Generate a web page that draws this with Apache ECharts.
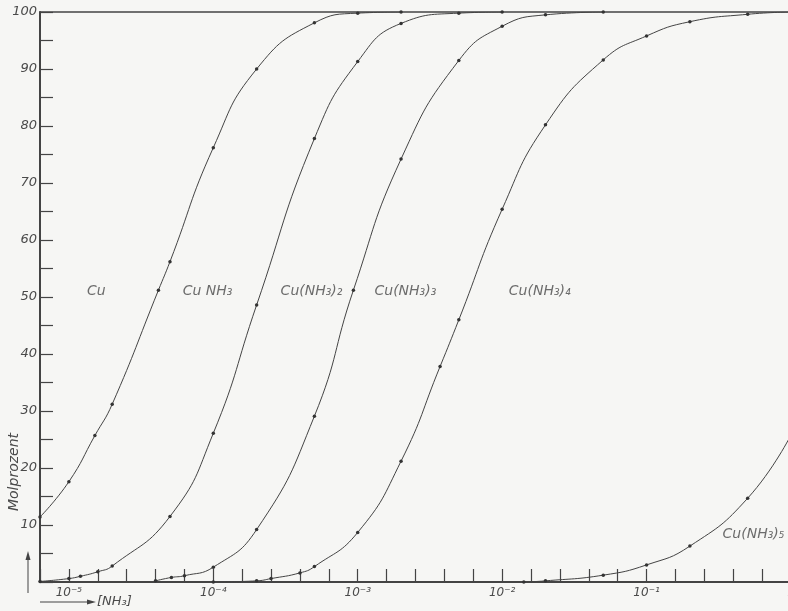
<!DOCTYPE html>
<html>
<head>
<meta charset="utf-8">
<script src="https://cdn.jsdelivr.net/npm/echarts@6.0.0/dist/echarts.min.js"></script>
<style>
  html, body { margin: 0; padding: 0; background: #f6f6f4; }
  #main { width: 788px; height: 611px; }
</style>
</head>
<body>
<div id="main"></div>
<script>
  // x = log10([NH3]), y = Molprozent (cumulative boundaries between species)
  const curveCu = [[-5.2, 11.4], [-5.0, 17.6], [-4.82, 25.7], [-4.7, 31.2], [-4.38, 51.2], [-4.3, 56.2], [-4.0, 76.2], [-3.7, 90.0], [-3.3, 98.1], [-3.0, 99.8], [-2.7, 100]]
  const curveCuNH3 = [[-5.2, 0.1], [-5.0, 0.6], [-4.92, 1.0], [-4.8, 1.8], [-4.7, 2.8], [-4.3, 11.5], [-4.0, 26.1], [-3.7, 48.6], [-3.3, 77.8], [-3.0, 91.3], [-2.7, 98.0], [-2.3, 99.8], [-2.0, 100]]
  const curveCuNH3_2 = [[-4.4, 0.2], [-4.29, 0.8], [-4.2, 1.1], [-4.0, 2.6], [-3.7, 9.2], [-3.3, 29.1], [-3.03, 51.2], [-2.7, 74.2], [-2.3, 91.5], [-2.0, 97.5], [-1.7, 99.5], [-1.3, 100]]
  const curveCuNH3_3 = [[-4.0, 0.0], [-3.7, 0.2], [-3.6, 0.6], [-3.4, 1.6], [-3.3, 2.7], [-3.0, 8.7], [-2.7, 21.2], [-2.43, 37.8], [-2.3, 46.0], [-2.0, 65.4], [-1.7, 80.2], [-1.3, 91.6], [-1.0, 95.8], [-0.7, 98.3], [-0.3, 99.6], [0, 100]]
  const curveCuNH3_4 = [[-1.85, 0.0], [-1.7, 0.2], [-1.3, 1.2], [-1.0, 3.0], [-0.7, 6.3], [-0.3, 14.7], [0, 25.8]]

  // species labels and where they sit (data coordinates)
  const labelNames = ['Cu', 'Cu NH₃', 'Cu(NH₃)₂', 'Cu(NH₃)₃', 'Cu(NH₃)₄', 'Cu(NH₃)₅']
  const labelX = [-4.81, -4.04, -3.32, -2.67, -1.74, -0.26]
  const labelY = [51, 51, 51, 51, 51, 8.3]

  const sup = { '-': '⁻', '1': '¹', '2': '²', '3': '³', '4': '⁴', '5': '⁵' }
  const textColor = '#4a4a4a'
  const lineColor = '#444'
  const font = 'DejaVu Sans'

  const chart = echarts.init(document.getElementById('main'))

  function curve (data) {
    return {
      type: 'line',
      data: data,
      smooth: 0.5,
      symbol: 'circle',
      symbolSize: 3.5,
      itemStyle: { color: '#333' },
      lineStyle: { color: lineColor, width: 1 },
      silent: true,
      z: 3
    }
  }

  const option = {
    backgroundColor: '#f6f6f4',
    animation: false,
    grid: { left: 40, right: -3, top: 12, bottom: 29, containLabel: false, outerBoundsMode: 'none' },
    xAxis: [
      {
        type: 'value',
        min: -5.2,
        max: 0,
        interval: 0.2,
        axisLine: { show: true, onZero: false, lineStyle: { color: lineColor, width: 2 } },
        axisTick: { show: true, inside: true, length: 13, lineStyle: { color: lineColor, width: 1.2 } },
        splitLine: { show: false },
        axisLabel: {
          margin: 5,
          color: textColor,
          fontFamily: font,
          fontStyle: 'italic',
          fontSize: 12,
          hideOverlap: false,
          formatter: v => {
            const r = Math.round(v)
            if (Math.abs(v - r) > 1e-6) return ''
            if (r === 0) return '1'
            return '10' + String(r).split('').map(c => sup[c]).join('')
          }
        }
      },
      {
        type: 'value',
        position: 'top',
        min: -5.2,
        max: 0,
        axisLine: { show: true, onZero: false, lineStyle: { color: lineColor, width: 1.5 } },
        axisTick: { show: false },
        axisLabel: { show: false },
        splitLine: { show: false }
      }
    ],
    yAxis: {
      type: 'value',
      min: 0,
      max: 100,
      interval: 5,
      axisLine: { show: true, onZero: false, lineStyle: { color: lineColor, width: 2 } },
      axisTick: { show: true, inside: true, length: 13, lineStyle: { color: lineColor, width: 1.2 } },
      splitLine: { show: false },
      axisLabel: {
        margin: 3,
        color: textColor,
        fontFamily: font,
        fontStyle: 'italic',
        fontSize: 13,
        formatter: v => (v > 0 && v % 10 === 0) ? String(v) : ''
      }
    },
    series: [
      curve(curveCu),
      curve(curveCuNH3),
      curve(curveCuNH3_2),
      curve(curveCuNH3_3),
      curve(curveCuNH3_4),
      {
        type: 'scatter',
        symbolSize: 0,
        silent: true,
        data: labelNames.map((n, i) => ({ name: n, value: [labelX[i], labelY[i]] })),
        label: {
          show: true,
          position: 'inside',
          formatter: p => p.name,
          color: textColor,
          fontFamily: font,
          fontStyle: 'italic',
          fontSize: 14
        }
      }
    ],
    graphic: [
      // y axis name with upward arrow
      {
        type: 'text',
        x: 14,
        y: 472,
        rotation: Math.PI / 2,
        style: {
          text: 'Molprozent',
          fill: textColor,
          font: 'italic 14px "DejaVu Sans"',
          align: 'center',
          verticalAlign: 'middle'
        }
      },
      { type: 'line', shape: { x1: 28, y1: 593, x2: 28, y2: 556 }, style: { stroke: lineColor, lineWidth: 1 } },
      { type: 'polygon', shape: { points: [[28, 551], [25.5, 560], [30.5, 560]] }, style: { fill: lineColor } },
      // x axis name with right arrow
      { type: 'line', shape: { x1: 40, y1: 602, x2: 90, y2: 602 }, style: { stroke: lineColor, lineWidth: 1 } },
      { type: 'polygon', shape: { points: [[96, 602], [87, 599.5], [87, 604.5]] }, style: { fill: lineColor } },
      {
        type: 'text',
        x: 97,
        y: 602,
        style: {
          text: '[NH₃]',
          fill: textColor,
          font: 'italic 13px "DejaVu Sans"',
          align: 'left',
          verticalAlign: 'middle'
        }
      }
    ]
  }

  chart.setOption(option)
</script>
</body>
</html>
